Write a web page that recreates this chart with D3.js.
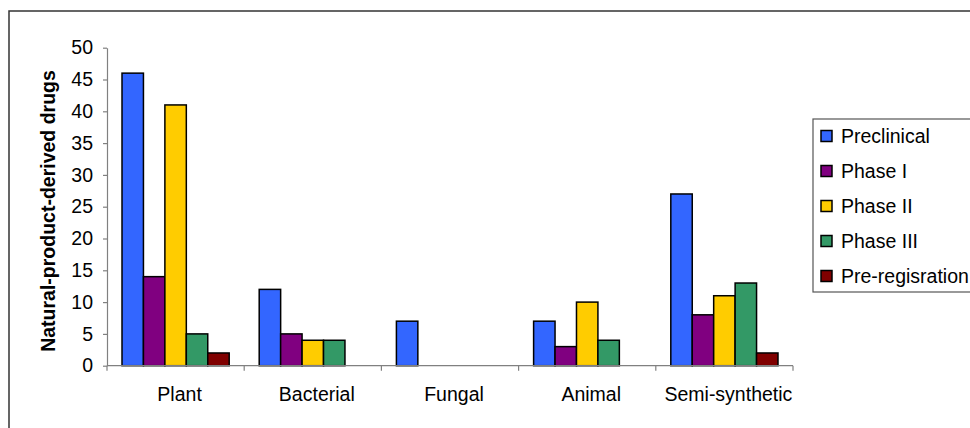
<!DOCTYPE html>
<html>
<head>
<meta charset="utf-8">
<script src="https://cdn.jsdelivr.net/npm/d3@7"></script>
<style>
  html, body { margin: 0; padding: 0; background: #fff; }
  svg { display: block; font-family: "Liberation Sans", Arial, sans-serif; }
</style>
</head>
<body>
<svg id="chart" width="970" height="428"></svg>
<script>
// Source categories and clinical-stage series
const categories = ["Plant", "Bacterial", "Fungal", "Animal", "Semi-synthetic"];
const seriesNames = ["Preclinical", "Phase I", "Phase II", "Phase III", "Pre-regisration"];
const seriesColors = ["#3366FF", "#800080", "#FFCC00", "#339966", "#800000"];
const preclinical = [46, 12, 7, 7, 27];
const phaseI = [14, 5, 0, 3, 8];
const phaseII = [41, 4, 0, 10, 11];
const phaseIII = [5, 4, 0, 4, 13];
const preRegistration = [2, 0, 0, 0, 2];
const yTicks = [0, 5, 10, 15, 20, 25, 30, 35, 40, 45, 50];
const yTitle = "Natural-product-derived drugs";

const seriesValues = [preclinical, phaseI, phaseII, phaseIII, preRegistration];

const svg = d3.select("#chart");
const fontSize = "19.5px";

// Outer chart frame
svg.append("rect")
  .attr("x", 9).attr("y", 11)
  .attr("width", 980).attr("height", 440)
  .attr("fill", "none").attr("stroke", "#333").attr("stroke-width", 1.5);

const plot = { left: 107, right: 793, top: 47.7, bottom: 365.7 };

const x = d3.scaleBand().domain(categories).range([plot.left, plot.right]).padding(0);
const xInner = d3.scaleBand().domain(seriesNames).range([0, x.bandwidth()])
  .paddingInner(0).paddingOuter(0.7);
const y = d3.scaleLinear().domain([0, 50]).range([plot.bottom, plot.top]);

// Bars
const rows = [];
categories.forEach((c, ci) => {
  seriesNames.forEach((s, si) => {
    rows.push({ cat: c, series: s, value: seriesValues[si][ci], color: seriesColors[si] });
  });
});

svg.append("g").selectAll("rect")
  .data(rows.filter(d => d.value > 0))
  .join("rect")
  .attr("x", d => x(d.cat) + xInner(d.series))
  .attr("y", d => y(d.value))
  .attr("width", xInner.bandwidth())
  .attr("height", d => y(0) - y(d.value))
  .attr("fill", d => d.color)
  .attr("stroke", "#000")
  .attr("stroke-width", 1.5);

// Y axis
const yAxis = svg.append("g")
  .attr("transform", `translate(${plot.left},0)`)
  .call(d3.axisLeft(y).tickValues(yTicks).tickSize(4).tickPadding(10).tickSizeOuter(0));
yAxis.select(".domain").attr("stroke", "#808080").attr("stroke-width", 1.2);
yAxis.selectAll(".tick line").attr("stroke", "#808080").attr("stroke-width", 1.2);
yAxis.selectAll(".tick text")
  .attr("fill", "#000").style("font-size", fontSize)
  .style("font-family", "'Liberation Sans', Arial, sans-serif");

// X axis with ticks at category boundaries
const xAxisG = svg.append("g");
xAxisG.append("line")
  .attr("x1", plot.left).attr("x2", plot.right)
  .attr("y1", plot.bottom).attr("y2", plot.bottom)
  .attr("stroke", "#808080").attr("stroke-width", 1.2);
const boundaries = categories.map(c => x(c)).concat([x(categories[categories.length - 1]) + x.bandwidth()]);
xAxisG.selectAll("line.tk")
  .data(boundaries)
  .join("line")
  .attr("class", "tk")
  .attr("x1", d => d).attr("x2", d => d)
  .attr("y1", plot.bottom).attr("y2", plot.bottom + 5)
  .attr("stroke", "#808080").attr("stroke-width", 1.2);
xAxisG.selectAll("text")
  .data(categories)
  .join("text")
  .attr("x", d => x(d) + x.bandwidth() / 2 + 4)
  .attr("y", 401)
  .attr("text-anchor", "middle")
  .style("font-size", fontSize)
  .text(d => d);

// Y axis title
svg.append("text")
  .attr("transform", "translate(55,211) rotate(-90)")
  .attr("text-anchor", "middle")
  .style("font-size", fontSize)
  .style("font-weight", "bold")
  .text(yTitle);

// Legend
const legend = svg.append("g");
legend.append("rect")
  .attr("x", 813).attr("y", 119)
  .attr("width", 160).attr("height", 173)
  .attr("fill", "#fff").attr("stroke", "#555").attr("stroke-width", 1.2);
const items = legend.selectAll("g.item")
  .data(seriesNames)
  .join("g")
  .attr("class", "item")
  .attr("transform", (d, i) => `translate(0,${136 + i * 35})`);
items.append("rect")
  .attr("x", 821).attr("y", -5.5)
  .attr("width", 11).attr("height", 11)
  .attr("fill", (d, i) => seriesColors[i])
  .attr("stroke", "#000").attr("stroke-width", 1.5);
items.append("text")
  .attr("x", 841).attr("y", 7)
  .style("font-size", fontSize)
  .text(d => d);
</script>
</body>
</html>
